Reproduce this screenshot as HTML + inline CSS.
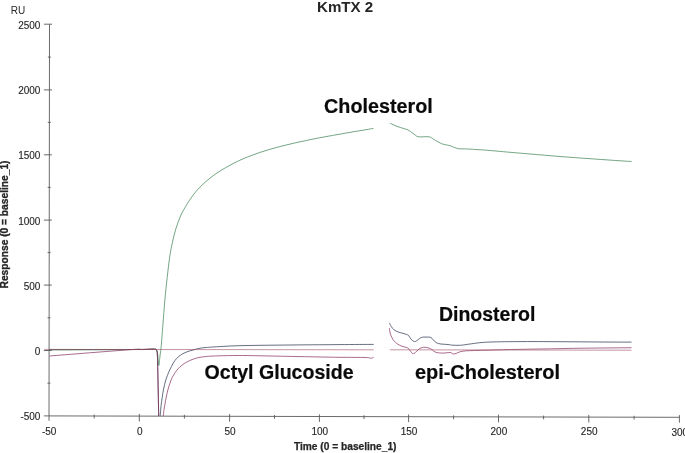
<!DOCTYPE html>
<html><head><meta charset="utf-8"><title>KmTX 2</title>
<style>html,body{margin:0;padding:0;background:#ffffff;}svg{display:block;}</style></head>
<body>
<svg width="685" height="453" viewBox="0 0 685 453">
<defs><clipPath id="plot"><path d="M40,0H685V417.2L40,415.8Z"/></clipPath></defs>
<rect width="685" height="453" fill="#ffffff"/>
<g fill="none" stroke-width="0.7" stroke-linejoin="round" stroke-linecap="butt" clip-path="url(#plot)">
<path d="M49.5,349.6C57.9,349.6 84.1,349.6 100.0,349.6C115.9,349.6 136.7,349.6 145.0,349.5C153.3,349.4 148.5,349.3 150.0,349.2C151.5,349.1 153.2,349.1 154.0,349.1C154.8,349.1 154.7,349.2 155.0,349.3C155.3,349.4 155.8,349.5 156.1,349.9C156.4,350.3 156.8,350.6 157.0,351.6C157.2,352.6 157.3,352.9 157.4,356.0C157.6,359.1 157.5,360.0 157.8,370.0C158.0,380.0 158.5,406.2 158.7,415.9C158.9,425.6 158.9,426.0 159.0,428.0" stroke="#262e4c"/>
<path d="M159.9,428.0C159.9,426.0 160.0,419.6 160.2,415.9C160.4,412.1 160.8,408.6 161.1,405.5C161.4,402.4 161.8,400.4 162.2,397.6C162.6,394.9 163.0,391.8 163.6,389.0C164.2,386.2 164.9,383.2 165.5,381.0C166.1,378.8 166.7,377.3 167.4,375.5C168.1,373.7 168.7,372.1 169.7,370.0C170.7,367.9 172.1,365.1 173.2,363.2C174.3,361.3 175.4,359.9 176.5,358.6C177.6,357.3 178.8,356.4 179.9,355.6C181.0,354.8 181.9,354.2 183.0,353.6C184.1,353.0 185.3,352.5 186.5,352.0C187.7,351.5 188.9,351.1 190.0,350.8C191.1,350.5 192.0,350.3 193.1,350.0C194.2,349.7 195.3,349.3 196.5,349.0C197.7,348.7 198.6,348.4 200.0,348.2C201.4,348.0 203.3,347.8 205.0,347.6C206.7,347.4 207.6,347.4 210.0,347.2C212.4,347.0 214.5,346.9 219.3,346.6C224.1,346.4 230.6,345.9 239.0,345.7C247.4,345.5 259.8,345.3 270.0,345.2C280.2,345.1 288.3,345.0 300.0,344.9C311.7,344.8 327.7,344.7 340.0,344.6C352.3,344.5 368.1,344.4 373.7,344.4" stroke="#262e4c"/>
<path d="M389.4,322.9C389.7,323.5 390.5,325.4 391.3,326.6C392.1,327.8 392.9,329.0 394.1,329.9C395.3,330.8 397.0,331.5 398.5,332.1C400.0,332.7 401.6,332.9 402.9,333.3C404.2,333.7 405.2,333.9 406.2,334.3C407.1,334.7 407.8,334.7 408.6,335.5C409.4,336.3 410.2,338.3 411.2,339.3C412.2,340.3 413.5,341.5 414.6,341.6C415.7,341.7 416.8,340.5 417.9,339.8C419.0,339.1 420.1,337.8 421.5,337.4C422.9,336.9 424.5,337.1 426.0,337.1C427.5,337.1 429.5,336.9 430.7,337.4C431.9,337.8 432.3,338.9 433.2,339.8C434.1,340.7 435.0,342.0 436.3,342.7C437.6,343.4 438.9,343.7 440.9,344.0C442.8,344.3 446.0,344.3 448.0,344.5C450.0,344.7 450.9,345.1 453.1,345.2C455.3,345.3 458.5,345.4 461.3,345.2C464.1,345.0 465.8,344.5 470.0,344.0C474.2,343.5 478.3,342.6 486.3,342.2C494.3,341.8 505.5,341.7 517.8,341.6C530.1,341.5 546.3,341.6 560.0,341.7C573.7,341.8 588.1,341.9 600.0,342.0C611.9,342.1 626.2,342.1 631.5,342.1" stroke="#262e4c"/>
<path d="M49.5,349.9C57.9,349.9 83.2,349.8 100.0,349.7C116.8,349.6 140.8,349.5 150.0,349.4C159.2,349.3 154.2,349.0 155.3,349.0C156.4,349.0 156.1,348.9 156.5,349.5C156.9,350.1 157.2,350.8 157.5,352.5C157.8,354.2 158.0,357.3 158.2,359.5C158.4,361.7 158.7,365.7 158.9,365.5C159.2,365.3 159.4,360.8 159.7,358.5C160.0,356.2 160.2,354.2 160.5,352.0C160.8,349.8 160.9,349.5 161.3,345.0C161.7,340.5 162.3,332.6 162.9,325.0C163.5,317.4 164.2,307.6 164.9,299.7C165.6,291.8 166.4,284.5 167.2,277.5C168.0,270.5 168.8,263.2 169.6,257.5C170.4,251.8 171.2,248.1 172.2,243.5C173.2,238.9 174.1,234.6 175.5,230.0C176.9,225.4 178.7,220.2 180.5,216.0C182.3,211.8 184.9,207.8 186.5,205.1C188.1,202.3 188.6,201.6 190.0,199.5C191.4,197.4 193.3,194.8 195.0,192.7C196.7,190.6 198.3,188.8 200.0,187.1C201.7,185.4 203.3,183.8 205.0,182.3C206.7,180.8 208.3,179.4 210.0,178.1C211.7,176.8 213.3,175.5 215.0,174.3C216.7,173.1 218.3,172.1 220.0,171.0C221.7,169.9 223.3,169.0 225.0,168.0C226.7,167.0 228.3,166.1 230.0,165.2C231.7,164.3 233.3,163.4 235.0,162.6C236.7,161.8 237.5,161.3 240.0,160.2C242.5,159.1 246.7,157.3 250.0,156.0C253.3,154.7 256.7,153.5 260.0,152.4C263.3,151.3 266.7,150.3 270.0,149.3C273.3,148.3 276.7,147.4 280.0,146.5C283.3,145.6 286.7,144.9 290.0,144.1C293.3,143.3 296.3,142.6 300.0,141.8C303.7,141.0 307.7,140.2 312.0,139.3C316.3,138.4 321.5,137.4 326.0,136.6C330.5,135.8 334.8,135.0 339.0,134.3C343.2,133.6 347.2,132.8 351.0,132.2C354.8,131.5 358.3,131.0 362.0,130.4C365.7,129.8 371.5,128.7 373.4,128.4" stroke="#37804f"/>
<path d="M389.9,123.2C390.6,123.5 392.6,124.4 394.0,125.0C395.4,125.6 396.5,126.2 398.0,126.7C399.5,127.2 401.4,127.8 403.0,128.3C404.6,128.8 406.1,129.2 407.4,129.7C408.6,130.2 409.5,130.9 410.5,131.5C411.5,132.1 412.4,132.9 413.2,133.5C414.0,134.1 414.7,134.8 415.5,135.3C416.3,135.8 416.8,136.4 417.9,136.7C419.0,137.0 420.6,136.9 422.0,136.9C423.4,136.9 424.7,136.7 426.0,136.7C427.3,136.7 428.7,136.7 429.6,136.9C430.5,137.1 430.9,137.5 431.5,137.8C432.1,138.1 432.4,138.4 433.1,138.9C433.9,139.4 435.0,140.1 436.0,140.7C437.0,141.3 438.0,141.8 438.9,142.3C439.8,142.8 440.5,143.2 441.5,143.6C442.5,144.0 443.7,144.4 444.7,144.6C445.7,144.9 446.5,144.9 447.5,145.1C448.5,145.3 449.4,145.5 450.6,145.9C451.8,146.3 453.1,147.0 454.5,147.5C455.9,148.0 457.4,148.5 458.8,148.7C460.2,148.9 461.4,148.9 463.0,148.9C464.6,148.9 465.8,148.9 468.1,149.0C470.4,149.1 473.9,149.4 477.0,149.6C480.1,149.8 483.3,149.9 486.8,150.2C490.3,150.5 494.1,150.9 498.0,151.2C501.9,151.6 504.9,151.8 510.2,152.3C515.5,152.8 521.7,153.3 530.0,154.0C538.3,154.7 550.0,155.7 560.0,156.5C570.0,157.3 581.7,158.1 590.0,158.7C598.3,159.3 603.1,159.6 610.0,160.1C616.9,160.6 627.9,161.3 631.5,161.5" stroke="#37804f"/>
<path d="M49.5,356.0C63.1,354.9 115.9,350.7 131.0,349.6C146.1,348.5 137.6,349.6 140.0,349.5C142.4,349.4 143.6,349.3 145.3,349.2C147.0,349.1 148.6,349.0 150.0,349.0C151.4,349.0 153.2,348.9 154.0,349.0C154.8,349.1 154.7,349.2 155.0,349.3C155.3,349.4 155.8,349.5 156.1,349.9C156.4,350.3 156.8,350.6 157.0,351.6C157.2,352.6 157.3,352.9 157.4,356.0C157.6,359.1 157.5,360.0 157.8,370.0C158.0,380.0 158.5,406.2 158.7,415.9C158.9,425.6 158.9,426.0 159.0,428.0" stroke="#822a5a"/>
<path d="M163.0,428.0C163.1,426.0 163.1,419.2 163.3,415.9C163.5,412.6 163.9,410.5 164.3,408.0C164.7,405.5 165.1,403.3 165.5,400.9C165.9,398.5 166.4,395.9 167.0,393.5C167.6,391.1 168.2,388.5 168.8,386.6C169.4,384.7 169.9,383.5 170.4,382.0C170.9,380.5 171.4,379.1 172.1,377.7C172.8,376.3 173.7,374.8 174.5,373.5C175.3,372.2 176.2,371.1 177.1,370.0C178.0,368.9 178.9,367.8 179.9,366.9C180.9,366.0 181.9,365.2 183.0,364.4C184.1,363.6 185.4,362.8 186.5,362.2C187.6,361.6 188.7,361.0 189.8,360.5C190.9,360.0 192.0,359.6 193.1,359.2C194.2,358.8 195.3,358.4 196.5,358.1C197.7,357.8 198.6,357.6 200.0,357.3C201.4,357.1 203.3,356.8 205.0,356.6C206.7,356.4 207.5,356.3 210.0,356.2C212.5,356.1 215.2,355.9 220.0,355.8C224.8,355.7 230.8,355.5 239.1,355.5C247.4,355.5 259.9,355.8 270.0,356.0C280.1,356.2 288.3,356.4 300.0,356.6C311.7,356.8 329.2,357.2 340.0,357.3C350.8,357.4 359.9,357.4 365.0,357.5C370.1,357.6 369.3,358.0 370.5,358.1C371.7,358.2 371.8,358.2 372.3,358.0C372.8,357.8 373.5,357.2 373.7,357.0" stroke="#822a5a"/>
<path d="M389.4,328.2C389.5,329.0 389.8,331.6 390.2,333.2C390.6,334.8 391.2,336.3 391.9,337.6C392.5,338.9 393.2,339.8 394.1,340.9C395.0,341.9 396.1,343.0 397.4,343.9C398.7,344.8 400.3,345.6 401.8,346.2C403.3,346.8 405.1,347.0 406.2,347.4C407.3,347.8 407.7,347.7 408.4,348.3C409.1,348.9 409.5,349.9 410.2,350.8C410.9,351.7 411.9,353.3 412.8,353.6C413.7,353.9 414.4,353.3 415.3,352.6C416.2,351.9 417.4,350.3 418.4,349.5C419.4,348.7 420.3,348.1 421.5,347.7C422.7,347.3 424.0,347.1 425.5,347.3C427.0,347.5 429.3,348.1 430.7,348.7C432.1,349.3 432.7,350.5 433.7,351.1C434.7,351.8 435.3,352.3 436.8,352.6C438.3,352.9 440.7,353.1 442.9,353.1C445.1,353.1 448.4,352.4 450.1,352.5C451.8,352.6 452.1,353.8 453.1,353.9C454.1,354.0 455.0,353.8 456.2,353.4C457.4,353.0 458.8,352.1 460.3,351.7C461.8,351.3 463.4,351.1 465.4,350.9C467.3,350.7 468.7,350.7 472.0,350.6C475.3,350.5 480.3,350.3 485.0,350.2C489.7,350.1 495.6,349.9 500.0,349.8C504.4,349.7 504.7,349.6 511.4,349.5C518.1,349.4 531.9,349.1 540.0,349.0C548.1,348.9 550.0,348.8 560.0,348.6C570.0,348.4 588.1,348.1 600.0,348.0C611.9,347.9 626.2,347.8 631.5,347.7" stroke="#822a5a"/>
<path d="M44.3,349.4L373.7,349.8M389.9,349.8L631.5,350.2" stroke="#9a4a5e" stroke-opacity="0.85"/>
</g>
<g stroke="#5a5a5a" stroke-width="0.9" fill="none">
<path d="M49.5,24.2L49.0,420.8"/>
<path d="M43.9,415.9L679.4,417.3"/>
<path d="M47.4,383.2H50.4"/>
<path d="M43.9,350.5H51.7"/>
<path d="M47.5,317.8H50.5"/>
<path d="M43.9,285.1H51.8"/>
<path d="M47.6,252.6H50.6"/>
<path d="M43.9,220.1H51.9"/>
<path d="M47.7,187.4H50.7"/>
<path d="M43.9,154.8H51.9"/>
<path d="M47.8,122.4H50.8"/>
<path d="M43.9,89.9H52.0"/>
<path d="M47.9,57.1H50.9"/>
<path d="M43.9,24.2H52.1"/>
<path d="M94.2,414.6V418.4"/>
<path d="M139.3,413.9V421.5"/>
<path d="M184.4,414.8V418.6"/>
<path d="M229.6,414.1V421.7"/>
<path d="M274.5,415.0V418.8"/>
<path d="M319.4,414.3V421.9"/>
<path d="M364.0,415.2V419.0"/>
<path d="M408.6,414.5V422.1"/>
<path d="M453.6,415.4V419.2"/>
<path d="M498.5,414.7V422.3"/>
<path d="M543.6,415.6V419.4"/>
<path d="M588.8,414.9V422.5"/>
<path d="M634.1,415.8V419.6"/>
<path d="M679.4,415.1V422.7"/>
</g>
<g font-family="'Liberation Sans', sans-serif" fill="#262626">
<g font-size="10px" text-anchor="end" stroke="#262626" stroke-width="0.12">
<text x="40.4" y="420.3">-500</text>
<text x="40.4" y="354.9">0</text>
<text x="40.4" y="289.5">500</text>
<text x="40.4" y="224.5">1000</text>
<text x="40.4" y="159.2">1500</text>
<text x="40.4" y="94.3">2000</text>
<text x="40.4" y="28.6">2500</text>
</g>
<g font-size="10px" text-anchor="middle" stroke="#262626" stroke-width="0.12">
<text x="49.2" y="434.5">-50</text>
<text x="139.7" y="434.6">0</text>
<text x="230.0" y="434.8">50</text>
<text x="319.8" y="434.9">100</text>
<text x="409.0" y="435.1">150</text>
<text x="498.9" y="435.2">200</text>
<text x="589.2" y="435.4">250</text>
<text x="679.8" y="435.5">300</text>
</g>
<text x="10.8" y="13.8" font-size="10px">RU</text>
<text x="345.1" y="11.8" font-size="15.1px" font-weight="bold" text-anchor="middle">KmTX 2</text>
<text x="345.2" y="450.1" font-size="10.2px" font-weight="bold" text-anchor="middle" textLength="102.6" lengthAdjust="spacingAndGlyphs" stroke="#262626" stroke-width="0.25">Time (0 = baseline_1)</text>
<text transform="translate(8.4,224.5) rotate(-90)" font-size="10.2px" font-weight="bold" text-anchor="middle" textLength="128" lengthAdjust="spacingAndGlyphs" stroke="#262626" stroke-width="0.3">Response (0 = baseline_1)</text>
<g font-weight="bold" fill="#0a0a0a" stroke="#0a0a0a" stroke-width="0.2" font-size="19.6px">
<text transform="translate(324.1,112.6) scale(1,1.0)" textLength="108.6" lengthAdjust="spacingAndGlyphs">Cholesterol</text>
<text transform="translate(438.9,321.0) scale(1,1.0)" textLength="96.4" lengthAdjust="spacingAndGlyphs">Dinosterol</text>
<text transform="translate(204.6,378.8) scale(1,1.0)" textLength="149.0" lengthAdjust="spacingAndGlyphs">Octyl Glucoside</text>
<text transform="translate(414.9,378.6) scale(1,1.0)" textLength="145.2" lengthAdjust="spacingAndGlyphs">epi-Cholesterol</text>
</g>
</g>
</svg>
</body></html>
